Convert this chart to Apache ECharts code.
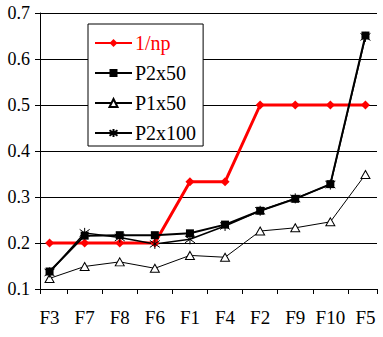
<!DOCTYPE html>
<html>
<head>
<meta charset="utf-8">
<script src="https://cdn.jsdelivr.net/npm/echarts@6/dist/echarts.min.js"></script>
<style>
html,body{margin:0;padding:0;background:#fff;}
#c{width:383px;height:337px;}
</style>
</head>
<body>
<div id="c"></div>
<script>
const categories = ['F3','F7','F8','F6','F1','F4','F2','F9','F10','F5'];
const seriesNames = ['1/np','P2x50','P1x50','P2x100'];
const invNp  = [0.2, 0.2, 0.2, 0.2, 0.333, 0.333, 0.5, 0.5, 0.5, 0.5];
const p2x50  = [0.138, 0.216, 0.217, 0.217, 0.221, 0.24, 0.27, 0.296, 0.328, 0.651];
const p1x50  = [0.123, 0.149, 0.159, 0.145, 0.173, 0.169, 0.226, 0.233, 0.246, 0.349];
const p2x100 = [0.136, 0.222, 0.212, 0.198, 0.208, 0.237, 0.27, 0.297, 0.327, 0.648];
const yMin = 0.1, yMax = 0.7, yStep = 0.1;

const FONT = "Liberation Serif";
const asterisk = 'path://M5,0L5,10M1.5,1.5L8.5,8.5M1.5,8.5L8.5,1.5';

const chart = echarts.init(document.getElementById('c'), null, {renderer: 'svg'});
chart.setOption({
  animation: false,
  backgroundColor: '#fff',
  grid: [
    {left: 40, right: 6, top: 13, bottom: 48},
    {left: 32, right: -1, top: 13, bottom: 48}
  ],
  xAxis: [
    {
      gridIndex: 0, type: 'value', min: 0, max: 1, interval: 1,
      axisLine: {show: true, lineStyle: {color: '#000', width: 1}},
      axisTick: {show: true, length: 5, lineStyle: {color: '#000'}},
      axisLabel: {show: false},
      splitLine: {show: false}
    },
    {
      gridIndex: 1, type: 'category', data: categories, boundaryGap: true,
      axisLine: {show: false},
      axisTick: {show: true, length: 5, lineStyle: {color: '#000'},
                 interval: function (i) { return i !== 0; }},
      axisLabel: {color: '#000', fontFamily: FONT, fontSize: 19, margin: 19, interval: 0}
    }
  ],
  yAxis: [
    {
      gridIndex: 0, type: 'value', min: yMin, max: yMax, interval: yStep,
      axisLine: {show: true, lineStyle: {color: '#000', width: 1}},
      axisTick: {show: true, length: 5, lineStyle: {color: '#000'}},
      axisLabel: {color: '#000', fontFamily: FONT, fontSize: 18, margin: 10,
                  formatter: function (v) { return v.toFixed(1); }},
      splitLine: {show: true, lineStyle: {color: '#000', width: 1}}
    },
    {
      gridIndex: 1, type: 'value', min: yMin, max: yMax, show: false,
      splitLine: {show: false}
    }
  ],
  legend: {
    orient: 'vertical',
    left: 88, top: 24,
    padding: [9, 7, 3, 6],
    itemGap: 10,
    itemWidth: 37, itemHeight: 10,
    backgroundColor: '#fff',
    borderColor: '#000', borderWidth: 1,
    textStyle: {fontFamily: FONT, fontSize: 20, color: '#000', lineHeight: 18, padding: [0,0,0,-2]},
    data: [
      {name: seriesNames[0], textStyle: {color: '#ff0000'}},
      {name: seriesNames[1]},
      {name: seriesNames[2]},
      {name: seriesNames[3]}
    ]
  },
  series: [
    {
      name: seriesNames[0], type: 'line', xAxisIndex: 1, yAxisIndex: 1, data: invNp,
      lineStyle: {color: '#ff0000', width: 3},
      itemStyle: {color: '#ff0000'},
      symbol: 'diamond', symbolSize: [9, 9], showSymbol: true
    },
    {
      name: seriesNames[1], type: 'line', xAxisIndex: 1, yAxisIndex: 1, data: p2x50,
      lineStyle: {color: '#000', width: 2},
      itemStyle: {color: '#000'},
      symbol: 'rect', symbolSize: 8
    },
    {
      name: seriesNames[2], type: 'line', xAxisIndex: 1, yAxisIndex: 1, data: p1x50,
      lineStyle: {color: '#000', width: 1},
      itemStyle: {color: '#fff', borderColor: '#000', borderWidth: 1},
      symbol: 'triangle', symbolSize: [9, 8]
    },
    {
      name: seriesNames[3], type: 'line', xAxisIndex: 1, yAxisIndex: 1, data: p2x100,
      lineStyle: {color: '#000', width: 1.5},
      itemStyle: {color: 'rgba(0,0,0,0)', borderColor: '#000', borderWidth: 1},
      symbol: asterisk, symbolSize: 10
    }
  ]
});
</script>
</body>
</html>
